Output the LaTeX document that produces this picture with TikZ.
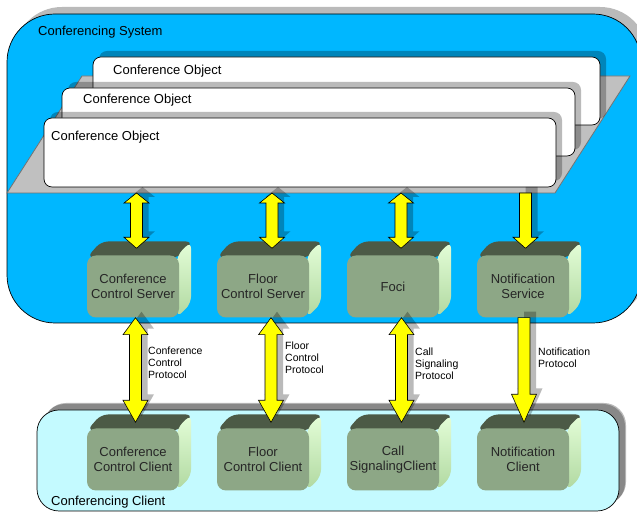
\documentclass[tikz,border=0pt]{standalone}
\usepackage{fontspec}
\setmainfont{Liberation Sans}
\usetikzlibrary{calc}

\definecolor{sysblue}{RGB}{0,183,255}
\definecolor{clientcyan}{RGB}{196,250,255}
\definecolor{planegray}{RGB}{192,192,192}
\definecolor{frontgreen}{RGB}{141,167,134}
\definecolor{topgreen}{RGB}{76,90,70}
\definecolor{sidelight}{RGB}{228,254,216}
\definecolor{sidedark}{RGB}{176,216,160}
\definecolor{arrowyellow}{RGB}{255,255,0}

\tikzset{
  dropshadow/.style={preaction={fill=black,opacity=0.27,
      transform canvas={shift={(#1,#1)}}}},
  dropshadow/.default=6pt,
  container/.style={draw=black,line width=0.7pt,inner sep=0pt,dropshadow=7pt},
  objbox/.style={draw=black,fill=white,line width=0.7pt,rounded corners=8pt,
      inner sep=0pt,dropshadow},
  title/.style={anchor=west,inner sep=0pt,font=\fontsize{13}{15}\selectfont},
  front/.style={fill=frontgreen,rounded corners=9pt,minimum width=92pt,
      minimum height=62pt,inner sep=0pt,align=center,text=black!85,
      font=\fontsize{13}{15}\selectfont},
  topface/.style={fill=topgreen,rounded corners=7pt},
  sideface/.style={top color=sidelight,bottom color=sidedark,rounded corners=7pt},
  yarrow/.style={draw=black,line width=0.6pt,fill=arrowyellow,line join=miter,
      dropshadow},
  protocol/.style={anchor=west,inner sep=0pt,align=left,
      font=\fontsize{10.5}{12}\selectfont},
}

% bevelled green box: name, centre x, centre y of the front face, text
\newcommand{\greencube}[4]{%
  \path[topface] (#2-46,#3+29) -- ++(14,16) -- ++(92,0) -- ++(-14,-16) -- cycle;
  \shade[sideface] (#2+44,#3+31) -- ++(14,14) -- ++(0,-62) -- ++(-14,-14) -- cycle;
  \node[front] (#1) at (#2,#3) {#4};
}

% yellow double arrow: top tip, bottom tip, top head length, bottom head length
\newcommand{\twowayarrow}[4]{%
  \draw[yarrow] let \p1=(#1), \p2=(#2) in
    (\x1,\y1) -- (\x1+12.5pt,\y1-#3) -- (\x1+6pt,\y1-#3) -- (\x1+6pt,\y2+#4)
    -- (\x1+12.5pt,\y2+#4) -- (\x1,\y2) -- (\x1-12.5pt,\y2+#4) -- (\x1-6pt,\y2+#4)
    -- (\x1-6pt,\y1-#3) -- (\x1-12.5pt,\y1-#3) -- cycle;
}

% yellow one-way arrow pointing down: start, tip, head length
\newcommand{\onewayarrow}[3]{%
  \draw[yarrow] let \p1=(#1), \p2=(#2) in
    (\x1-6pt,\y1) -- (\x1+6pt,\y1) -- (\x1+6pt,\y2+#3) -- (\x1+12.5pt,\y2+#3)
    -- (\x1,\y2) -- (\x1-12.5pt,\y2+#3) -- (\x1-6pt,\y2+#3) -- cycle;
}

\begin{document}
\begin{tikzpicture}[x=1pt,y=1pt]
\useasboundingbox (0,0) rectangle (637,513);

% conferencing system
\node[container,fill=sysblue,rounded corners=48pt,minimum width=634pt,
      minimum height=309pt] (sys) at (324,344.5) {};
\node[title] (systitle) at (38,481) {Conferencing System};

% plane carrying the conference objects
\draw[fill=planegray,draw=black!55,line width=0.8pt]
  (82,437) -- (630,437) -- (555,320) -- (7,320) -- cycle;
\coordinate (planebase) at (0,320);

% stacked conference objects
\node[objbox,minimum width=507pt,minimum height=68pt] (obj3) at (346.5,422) {};
\node[title] (obj3t) at (113,442) {Conference Object};
\node[objbox,minimum width=513pt,minimum height=68pt] (obj2) at (318.5,391) {};
\node[title] (obj2t) at (83,413) {Conference Object};
\node[objbox,minimum width=512pt,minimum height=69pt] (obj1) at (300,360.5) {};
\node[title] (obj1t) at (51,376) {Conference Object};

% conferencing client
\node[container,fill=clientcyan,rounded corners=22pt,minimum width=582pt,
      minimum height=101pt,dropshadow=6pt] (client) at (328,52.5) {};
\node[title] (clienttitle) at (51,11) {Conferencing Client};

% servers
\greencube{srv1}{133}{226.5}{Conference\\Control Server}
\greencube{srv2}{263}{226.5}{Floor\\Control Server}
\greencube{srv3}{393}{226.5}{Foci}
\greencube{srv4}{523}{226.5}{Notification\\Service}

% clients
\greencube{cli1}{133}{53.5}{Conference\\Control Client}
\greencube{cli2}{263}{53.5}{Floor\\Control Client}
\greencube{cli3}{393}{53.5}{Call\\SignalingClient}
\greencube{cli4}{523}{53.5}{Notification\\Client}

% arrow end points
\coordinate (u1t) at ([xshift=3.5pt]srv1.north |- planebase);
\coordinate (u1b) at ([shift={(3.5pt,7pt)}]srv1.north);
\coordinate (u2t) at ([xshift=9pt]srv2.north |- planebase);
\coordinate (u2b) at ([shift={(9pt,7pt)}]srv2.north);
\coordinate (u3t) at ([xshift=8pt]srv3.north |- planebase);
\coordinate (u3b) at ([shift={(8pt,7pt)}]srv3.north);
\coordinate (u4t) at ([xshift=2.5pt]srv4.north |- planebase);
\coordinate (u4b) at ([shift={(2.5pt,7pt)}]srv4.north);

\coordinate (l1t) at ([xshift=2.5pt]srv1.south);
\coordinate (l1b) at ([shift={(2.5pt,6pt)}]cli1.north);
\coordinate (l2t) at ([xshift=8pt]srv2.south);
\coordinate (l2b) at ([shift={(8pt,6pt)}]cli2.north);
\coordinate (l3t) at ([xshift=8.5pt]srv3.south);
\coordinate (l3b) at ([shift={(8.5pt,6pt)}]cli3.north);
\coordinate (l4t) at ([xshift=1pt]srv4.south);
\coordinate (l4b) at ([shift={(1pt,6pt)}]cli4.north);

% objects <-> servers
\twowayarrow{u1t}{u1b}{10pt}{11pt}
\twowayarrow{u2t}{u2b}{10pt}{11pt}
\twowayarrow{u3t}{u3b}{10pt}{11pt}
\onewayarrow{u4t}{u4b}{11pt}

% servers <-> clients
\twowayarrow{l1t}{l1b}{17pt}{22pt}
\twowayarrow{l2t}{l2b}{17pt}{22pt}
\twowayarrow{l3t}{l3b}{17pt}{22pt}
\onewayarrow{l4t}{l4b}{28pt}

% protocol labels
\node[protocol] (p1) at (148,150) {Conference\\Control\\Protocol};
\node[protocol] (p2) at (285,155) {Floor\\Control\\Protocol};
\node[protocol] (p3) at (415,149) {Call\\Signaling\\Protocol};
\node[protocol] (p4) at (538,155) {Notification\\Protocol};
\end{tikzpicture}
\end{document}
